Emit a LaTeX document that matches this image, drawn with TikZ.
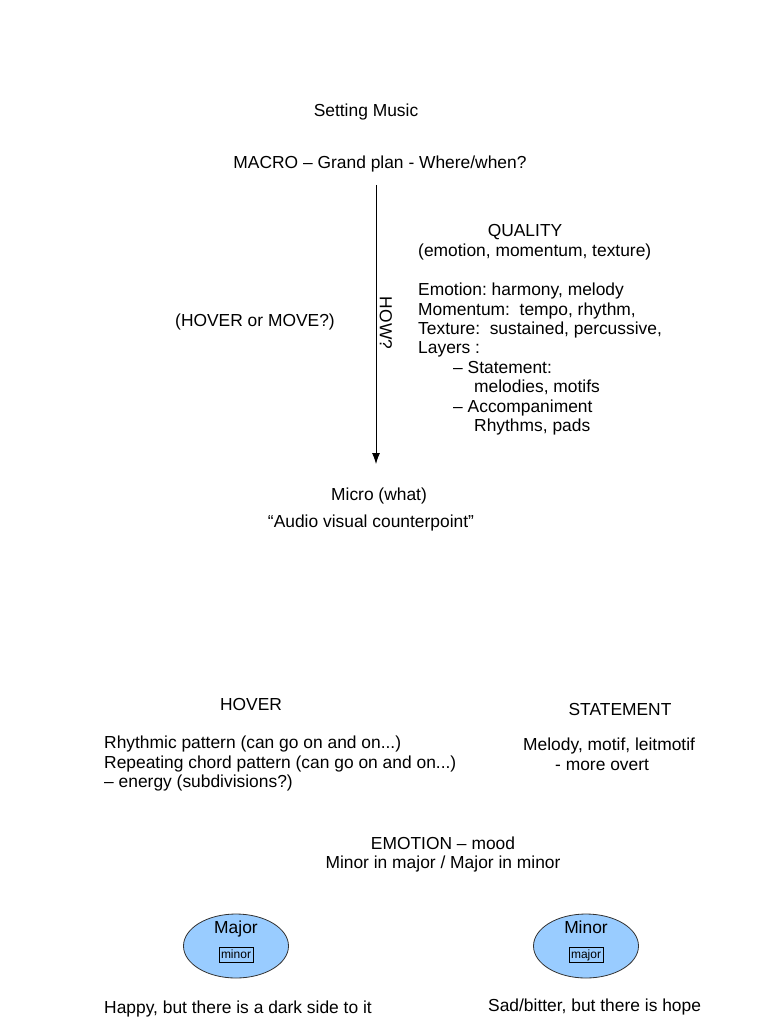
\documentclass[tikz,border=0pt]{standalone}
\usepackage{fontspec}
\setmainfont{Liberation Sans}
\usetikzlibrary{shapes.geometric,arrows.meta}
\definecolor{ellblue}{RGB}{153,204,255}
\frenchspacing
\begin{document}
\begin{tikzpicture}[x=1pt,y=-1pt,
  txt/.style={inner sep=0pt,text height=12.5pt,text depth=0pt,font=\fontsize{17.4}{19.4}\selectfont},
  lft/.style={txt,anchor=west},
  blob/.style={ellipse,draw=black!80,line width=0.8pt,fill=ellblue,minimum width=105pt,minimum height=64pt,inner sep=0pt},
  smallbox/.style={draw=black,line width=0.8pt,inner sep=2pt,text height=9pt,text depth=2.5pt,font=\fontsize{12}{14}\selectfont}]
\useasboundingbox[fill=white] (0,0) rectangle (768,1024);
\node[txt] (title) at (366,110) {Setting Music};
\node[txt] (macro) at (380,162) {MACRO -- Grand plan - Where/when?};
\coordinate (atop) at (376,185);
\coordinate (abot) at (376,464);
\draw[line width=0.8pt,-{Latex[length=11pt,width=8pt]}] (atop) -- (abot);
\node[txt,rotate=-90] (how) at (386,323) {HOW?};
\node[txt] (hovmove) at (255,320) {(HOVER or MOVE?)};
\node[txt] (quality) at (525,230) {QUALITY};
\node[lft] (qsub) at (418,250) {(emotion, momentum, texture)};
\node[lft] (l1) at (418,289) {Emotion: harmony, melody};
\node[lft] (l2) at (418,309) {Momentum:\ \ tempo, rhythm,};
\node[lft] (l3) at (418,328) {Texture:\ \ sustained, percussive,};
\node[lft] (l4) at (418,347) {Layers :};
\node[lft] (l5) at (453,367) {-- Statement:};
\node[lft] (l6) at (474,386) {melodies, motifs};
\node[lft] (l7) at (453,406) {-- Accompaniment};
\node[lft] (l8) at (474,425) {Rhythms, pads};
\node[txt] (micro) at (379,494) {Micro (what)};
\node[txt] (avc) at (371,521) {“Audio visual counterpoint”};
\node[txt] (hover) at (251,704) {HOVER};
\node[lft] (h1) at (104,742) {Rhythmic pattern (can go on and on...)};
\node[lft] (h2) at (104,762) {Repeating chord pattern (can go on and on...)};
\node[lft] (h3) at (104,781) {-- energy (subdivisions?)};
\node[txt] (statement) at (620,709) {STATEMENT};
\node[lft] (s1) at (523,744) {Melody, motif, leitmotif};
\node[lft] (s2) at (555,764) {- more overt};
\node[txt] (emotion) at (443,843) {EMOTION -- mood};
\node[txt] (mim) at (443,862) {Minor in major / Major in minor};
\node[blob] (major) at (236,946) {};
\node[txt] (majlbl) at (236,927) {Major};
\node[smallbox] (minbox) at (236,955) {minor};
\node[blob] (minor) at (586,946) {};
\node[txt] (minlbl) at (586,927) {Minor};
\node[smallbox] (majbox) at (586,955) {major};
\node[lft] (happy) at (104,1007) {Happy, but there is a dark side to it};
\node[lft] (sad) at (488,1005) {Sad/bitter, but there is hope};
\end{tikzpicture}
\end{document}
